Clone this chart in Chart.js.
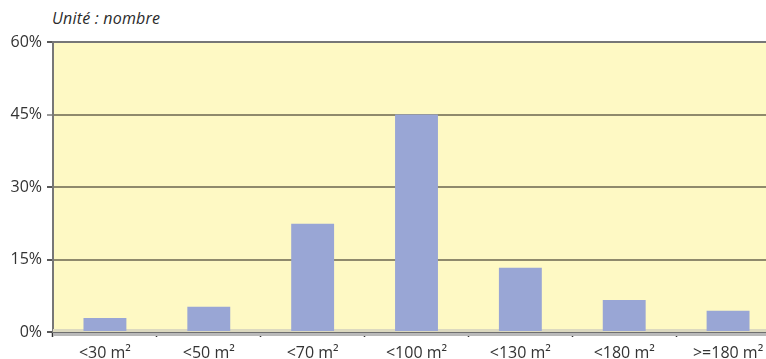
<!DOCTYPE html>
<html>
<head>
<meta charset="utf-8">
<script src="https://cdn.jsdelivr.net/npm/chart.js@4.4.1/dist/chart.umd.min.js"></script>
<style>
  html, body { margin: 0; padding: 0; background: #ffffff; overflow: hidden; }
  #wrap { position: relative; width: 766px; height: 359px; overflow: hidden; }
  #unit { position: absolute; left: 52px; top: 7px; font: italic 16px "Open Sans", Lato, sans-serif; color: #2b2b2b; letter-spacing: 0.2px; }
  canvas { position: absolute; left: 0; top: 0; }
</style>
</head>
<body>
<div id="wrap">
  <div id="unit">Unité : nombre</div>
  <canvas id="c" width="780" height="359"></canvas>
</div>
<script>
// Surface categories and share of dwellings in each
const categories = ['<30 m²', '<50 m²', '<70 m²', '<100 m²', '<130 m²', '<180 m²', '>=180 m²'];
const shares = [2.9, 5.2, 22.4, 45.0, 13.3, 6.6, 4.4];
const yTicks = [0, 15, 30, 45, 60];

const textColor = '#333333';
const fontFamily = '"Open Sans", Lato, sans-serif';

// Pale floor band, axis line and top frame drawn around the plot area
const framePlugin = {
  id: 'frame',
  beforeDraw(chart) {
    const { ctx, chartArea: a } = chart;
    ctx.save();
    ctx.fillStyle = '#fef9c4';
    ctx.fillRect(a.left, a.top, a.right - a.left, a.bottom - a.top);
    ctx.restore();
  },
  beforeDatasetsDraw(chart) {
    const { ctx, chartArea: a } = chart;
    ctx.save();
    ctx.fillStyle = '#dcd9bf';
    ctx.fillRect(a.left, a.bottom - 3, a.right - a.left, 3);
    ctx.restore();
  },
  afterDatasetsDraw(chart) {
    const { ctx, chartArea: a } = chart;
    ctx.save();
    ctx.fillStyle = '#777777';
    ctx.fillRect(a.left, a.top - 1, a.right - a.left, 2);
    ctx.fillStyle = '#6f6f6f';
    ctx.fillRect(a.left, a.bottom, a.right - a.left, 1);
    ctx.fillStyle = '#b9b9b9';
    ctx.fillRect(a.left, a.bottom + 1, a.right - a.left, 3);
    ctx.restore();
  }
};

new Chart(document.getElementById('c'), {
  type: 'bar',
  data: {
    labels: categories,
    datasets: [{
      data: shares,
      backgroundColor: '#99a6d5',
      borderWidth: 0,
      barPercentage: 0.413,
      categoryPercentage: 1.0
    }]
  },
  options: {
    responsive: false,
    animation: false,
    layout: { padding: { top: 42, left: 0, right: 0, bottom: 0 } },
    plugins: { legend: { display: false }, tooltip: { enabled: false } },
    scales: {
      x: {
        grid: {
          offset: true,
          drawOnChartArea: false,
          drawTicks: true,
          tickLength: 5,
          tickColor: '#333333',
          tickWidth: 1.5
        },
        border: { display: false },
        ticks: {
          color: textColor,
          font: { family: fontFamily, size: 16 },
          padding: 7,
          maxRotation: 0
        },
        afterFit(s) { s.height = 27; }
      },
      y: {
        min: 0,
        max: 60,
        afterBuildTicks(s) { s.ticks = yTicks.map(v => ({ value: v })); },
        grid: {
          color: (c) => (c.tick && (c.tick.value === 0 || c.tick.value === 60)) ? 'rgba(0,0,0,0)' : '#8f8a6c',
          lineWidth: 2,
          drawTicks: true,
          tickLength: 6,
          tickColor: (c) => c.tick && c.tick.value === 45 ? '#7a7a7a' : '#222222',
          tickWidth: 1.5
        },
        border: { display: true, color: '#777777', width: 2 },
        ticks: {
          color: textColor,
          font: { family: fontFamily, size: 16 },
          padding: 5,
          callback: (v) => v + '%'
        },
        afterFit(s) { s.width = 53; }
      }
    }
  },
  plugins: [framePlugin]
});
</script>
</body>
</html>
